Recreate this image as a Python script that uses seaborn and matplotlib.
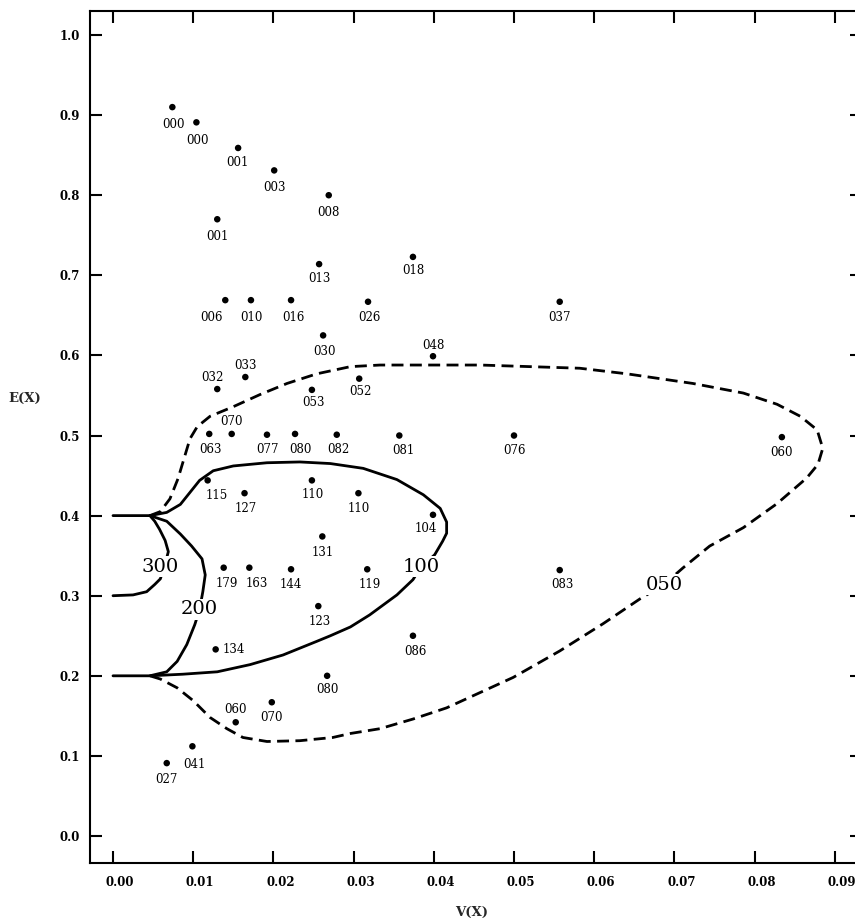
import numpy as np
import pandas as pd
import matplotlib
matplotlib.use("Agg")
import matplotlib.pyplot as plt
import matplotlib.transforms as mtransforms
import seaborn as sns

# ---- observed (V, E) pairs and their case codes ----
codes = ["000", "000", "001", "003", "001", "008", "013", "018",
         "006", "010", "016", "026", "037", "030", "048", "053",
         "052", "032", "033", "063", "070", "077", "080", "082",
         "081", "076", "060", "115", "127", "110", "110", "104",
         "131", "144", "119", "083", "179", "163", "123", "086",
         "134", "080", "060", "070", "041", "027"]
v_x = [0.0074, 0.0104, 0.0156, 0.0201, 0.0130, 0.0269, 0.0257, 0.0374,
       0.0140, 0.0172, 0.0222, 0.0318, 0.0557, 0.0262, 0.0399, 0.0248,
       0.0307, 0.0130, 0.0165, 0.0120, 0.0148, 0.0192, 0.0227, 0.0279,
       0.0357, 0.0500, 0.0834, 0.0118, 0.0164, 0.0248, 0.0306, 0.0399,
       0.0261, 0.0222, 0.0317, 0.0557, 0.0138, 0.0170, 0.0256, 0.0374,
       0.0128, 0.0267, 0.0153, 0.0198, 0.0099, 0.0067]
e_x = [0.910, 0.891, 0.859, 0.831, 0.770, 0.800, 0.714, 0.723,
       0.669, 0.669, 0.669, 0.667, 0.667, 0.625, 0.599, 0.557,
       0.571, 0.558, 0.573, 0.502, 0.502, 0.501, 0.502, 0.501,
       0.500, 0.500, 0.498, 0.444, 0.428, 0.444, 0.428, 0.401,
       0.374, 0.333, 0.333, 0.332, 0.335, 0.335, 0.287, 0.250,
       0.233, 0.200, 0.142, 0.167, 0.112, 0.091]

# ---- contour curves (V, E) ----
c300_v = [0.0000, 0.0025, 0.0042, 0.0052, 0.0059, 0.0064, 0.0069, 0.0065,
          0.0058, 0.0052, 0.0046, 0.0020, 0.0000]
c300_e = [0.300, 0.301, 0.305, 0.314, 0.321, 0.336, 0.355, 0.369,
          0.383, 0.393, 0.400, 0.400, 0.400]

c200_v = [0.0046, 0.0067, 0.0084, 0.0098, 0.0111, 0.0115, 0.0112, 0.0108,
          0.0102, 0.0092, 0.0080, 0.0067, 0.0046, 0.0020, 0.0000]
c200_e = [0.400, 0.393, 0.377, 0.362, 0.346, 0.326, 0.305, 0.283,
          0.264, 0.239, 0.218, 0.205, 0.200, 0.200, 0.200]

c100_v = [0.0046, 0.0067, 0.0084, 0.0096, 0.0108, 0.0125, 0.0150, 0.0192,
          0.0233, 0.0271, 0.0312, 0.0354, 0.0387, 0.0408, 0.0416, 0.0416,
          0.0411, 0.0401, 0.0384, 0.0374, 0.0354, 0.0320, 0.0296, 0.0271,
          0.0254, 0.0212, 0.0171, 0.0130, 0.0087, 0.0046]
c100_e = [0.400, 0.404, 0.414, 0.429, 0.444, 0.456, 0.462, 0.466,
          0.467, 0.465, 0.459, 0.445, 0.426, 0.409, 0.392, 0.378,
          0.368, 0.351, 0.336, 0.320, 0.301, 0.276, 0.261, 0.250,
          0.243, 0.226, 0.214, 0.205, 0.202, 0.200]

c050_v = [0.0046, 0.0059, 0.0071, 0.0081, 0.0090, 0.0096, 0.0105, 0.0121,
          0.0150, 0.0183, 0.0217, 0.0254, 0.0296, 0.0333, 0.0458, 0.0582,
          0.0641, 0.0723, 0.0786, 0.0828, 0.0857, 0.0878, 0.0885, 0.0879,
          0.0865, 0.0828, 0.0786, 0.0744, 0.0711, 0.0687, 0.0657, 0.0611,
          0.0557, 0.0499, 0.0416, 0.0374, 0.0333, 0.0296, 0.0274, 0.0233,
          0.0192, 0.0162, 0.0142, 0.0121, 0.0100, 0.0080, 0.0059, 0.0046]
c050_e = [0.400, 0.405, 0.421, 0.446, 0.476, 0.496, 0.511, 0.524,
          0.536, 0.551, 0.565, 0.577, 0.586, 0.588, 0.588, 0.584,
          0.577, 0.565, 0.553, 0.539, 0.524, 0.507, 0.484, 0.464,
          0.447, 0.415, 0.385, 0.362, 0.335, 0.314, 0.296, 0.265,
          0.231, 0.198, 0.160, 0.146, 0.134, 0.128, 0.123, 0.119,
          0.118, 0.123, 0.134, 0.148, 0.169, 0.185, 0.196, 0.200]

contour_names = ["300", "200", "100", "050"]
contour_label_at = [(0.0059, 0.336), (0.0108, 0.283), (0.0384, 0.336), (0.0687, 0.314)]

x_ticks = [0.00, 0.01, 0.02, 0.03, 0.04, 0.05, 0.06, 0.07, 0.08, 0.09]
y_ticks = [0.0, 0.1, 0.2, 0.3, 0.4, 0.5, 0.6, 0.7, 0.8, 0.9, 1.0]

# label placement around each dot, in pixels (dx right, dy up)
label_offsets = [(1, -17), (1, -18), (-1, -15), (0, -17), (0, -17), (0, -17), (0, -14), (0, -14),
                 (-14, -17), (0, -17), (2, -17), (1, -16), (0, -16), (1, -16), (0, 11), (2, -13),
                 (1, -13), (-5, 12), (0, 12), (1, -16), (0, 12), (1, -15), (5, -16), (2, -15),
                 (4, -15), (1, -15), (0, -15), (9, -15), (1, -15), (1, -14), (0, -15), (-7, -14),
                 (0, -16), (0, -15), (3, -15), (3, -14), (3, -16), (7, -16), (1, -15), (2, -16),
                 (18, 0), (0, -14), (0, 13), (0, -15), (2, -18), (0, -16)]

sns.set_theme(style="ticks")
plt.rcParams["font.family"] = ["DejaVu Serif"]

W, H = 855, 918
fig = plt.figure(figsize=(W / 100, H / 100), dpi=100)
# plot frame: left 90 px, right 862 px (just past the canvas edge), top 11 px, bottom 863 px
ax = fig.add_axes([90 / W, (H - 863) / H, (862 - 90) / W, (863 - 11) / H])

line_kw = dict(color="black", lw=2.0, sort=False, estimator=None, legend=False, ax=ax)
sns.lineplot(x=c300_v, y=c300_e, **line_kw)
sns.lineplot(x=c200_v, y=c200_e, **line_kw)
sns.lineplot(x=c100_v, y=c100_e, **line_kw)
sns.lineplot(x=c050_v, y=c050_e, linestyle=(0, (4.3, 2.3)), **line_kw)

pts = pd.DataFrame({"V": v_x, "E": e_x, "code": codes})
sns.scatterplot(data=pts, x="V", y="E", color="black", s=22, edgecolor="none",
                zorder=4, ax=ax, legend=False)

for (vx, ex, code, (dx, dy)) in zip(v_x, e_x, codes, label_offsets):
    ax.annotate(code, (vx, ex), xytext=(dx * 0.72, dy * 0.72), textcoords="offset points",
                ha="center", va="center", fontsize=8.5, color="black", zorder=5)

for name, (lx, ly) in zip(contour_names, contour_label_at):
    ax.text(lx, ly, name, ha="center", va="center", fontsize=14, color="black", zorder=6,
            bbox=dict(boxstyle="square,pad=0.08", fc="white", ec="none"))

ax.set_xlim((90 - 113) / 8020, (862 - 113) / 8020)
ax.set_ylim(-0.0337, 1.030)
ax.set_xticks(x_ticks)
ax.set_xticklabels([f"{t:.2f}" for t in x_ticks])
ax.set_yticks(y_ticks)
ax.set_yticklabels([f"{t:.1f}" for t in y_ticks])

ax.tick_params(axis="both", which="major", direction="in", length=8.5, width=1.5,
               top=True, right=True, labeltop=False, labelright=False,
               labelsize=8.5, colors="black")
ax.tick_params(axis="x", pad=9)
ax.tick_params(axis="y", pad=7)
for lab in ax.get_xticklabels() + ax.get_yticklabels():
    lab.set_fontweight("bold")
shift = mtransforms.ScaledTranslation(7 / 100, 0, fig.dpi_scale_trans)
for lab in ax.get_xticklabels():
    lab.set_transform(lab.get_transform() + shift)

for side in ["left", "bottom", "top"]:
    ax.spines[side].set_visible(True)
    ax.spines[side].set_linewidth(1.5)
    ax.spines[side].set_color("black")
ax.spines["right"].set_visible(False)

ax.set_xlabel("")
ax.set_ylabel("")
fig.text(472 / W, 1 - 912 / H, "V(X)", ha="center", va="center",
         fontsize=9.5, fontweight="bold")
fig.text(25 / W, 1 - 398 / H, "E(X)", ha="center", va="center",
         fontsize=9.5, fontweight="bold")

fig.savefig("out.png", dpi=100, facecolor="white")
